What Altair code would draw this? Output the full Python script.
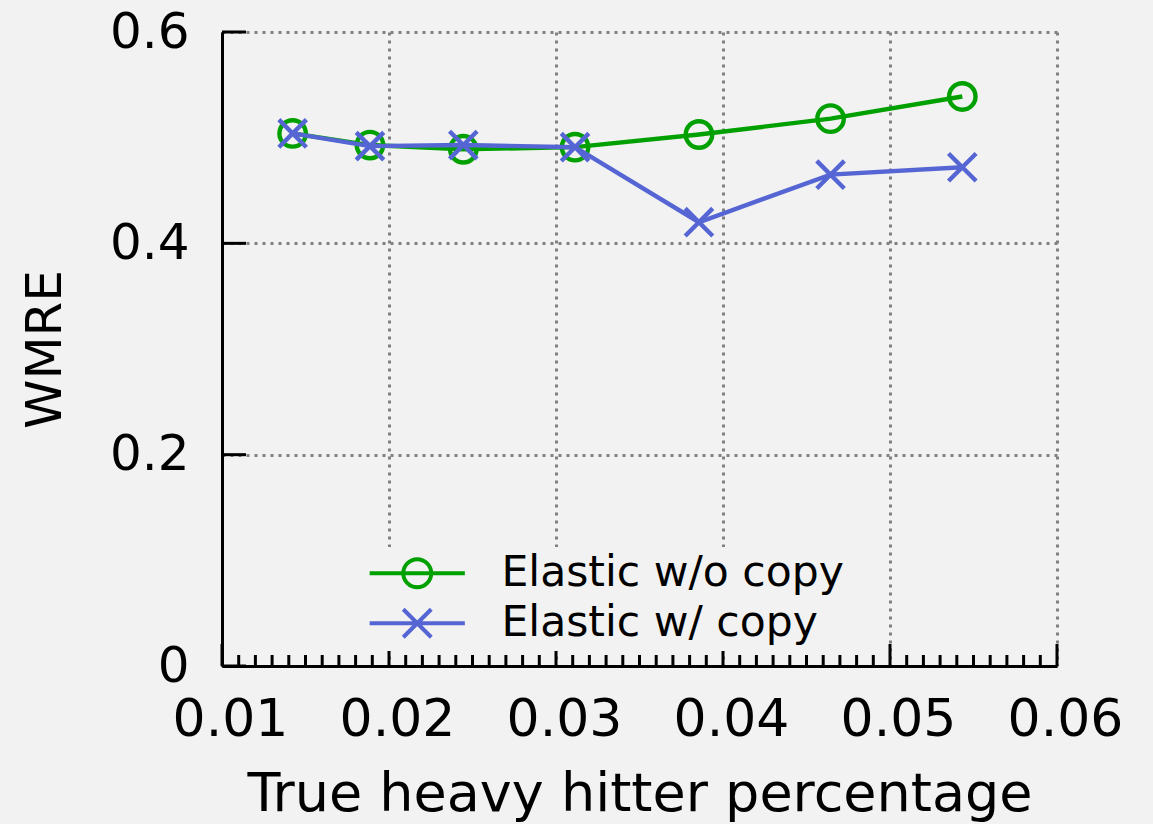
import altair as alt
import pandas as pd

# ---- data ----
x_vals = [0.01423, 0.01886, 0.02445, 0.03114, 0.03856, 0.04644, 0.05433]
wo_copy = [0.504, 0.493, 0.489, 0.491, 0.503, 0.518, 0.539]
w_copy = [0.504, 0.492, 0.493, 0.491, 0.420, 0.465, 0.472]
series_names = ["Elastic w/o copy", "Elastic w/ copy"]
colors = ["#00a000", "#5566d4"]
x_ticks = [0.01, 0.02, 0.03, 0.04, 0.05, 0.06]
y_ticks = [0.0, 0.2, 0.4, 0.6]
x_minor = [round(0.01 + i * 0.001, 4) for i in range(51) if i % 10 != 0]

FONT = "DejaVu Sans"
BG = "#f2f2f2"
W, H = 835, 634

rows = []
for x, a, b in zip(x_vals, wo_copy, w_copy):
    rows.append({"x": x, "y": a, "series": series_names[0]})
    rows.append({"x": x, "y": b, "series": series_names[1]})
df = pd.DataFrame(rows)

xscale = alt.Scale(domain=[0.01, 0.06], nice=False, zero=False)
yscale = alt.Scale(domain=[0, 0.6], nice=False, zero=True)
cscale = alt.Scale(domain=series_names, range=colors)

# legend symbols: horizontal line with marker
circ_path = "M-3.4,0H3.4M-1,0A1,1 0 1,0 1,0A1,1 0 1,0 -1,0"
x_path = "M-3.4,0H3.4M-1,-1L1,1M-1,1L1,-1"
X_MARK = "M-1,-1L1,1M-1,1L1,-1"

base = alt.Chart(df)

xaxis = alt.Axis(values=x_ticks, format=".2f", grid=True, gridColor="#808080",
                 gridDash=[3, 5], gridWidth=3, ticks=False, tickSize=0,
                 domainColor="black", domainWidth=3, labelFont=FONT,
                 labelFontSize=52, labelColor="black", labelPadding=28,
                 labelOffset=8, labelFlush=False,
                 title="True heavy hitter percentage", titleFont=FONT,
                 titleFontSize=54, titleFontWeight="normal", titleColor="black",
                 titleX=W / 2, titleY=144, titleBaseline="alphabetic",
                 titleAlign="center")
yaxis = alt.Axis(values=y_ticks, grid=True, gridColor="#808080",
                 gridDash=[3, 5], gridWidth=3, ticks=False, tickSize=0,
                 domainColor="black", domainWidth=3, labelFont=FONT,
                 labelFontSize=50, labelColor="black", labelPadding=33,
                 labelExpr="datum.value == 0 ? '0' : format(datum.value, '.1f')",
                 labelFlush=False,
                 title="WMRE", titleFont=FONT, titleFontSize=50,
                 titleFontWeight="normal", titleColor="black", titleAngle=-90,
                 titleX=-177, titleY=H / 2, titleAlign="center",
                 titleBaseline="middle")

axes_layer = alt.Chart(pd.DataFrame({"x": [0.01], "y": [0.0]})).mark_point(opacity=0).encode(
    x=alt.X("x:Q", scale=xscale, axis=xaxis),
    y=alt.Y("y:Q", scale=yscale, axis=yaxis),
)

def series_layers(name, color, shape, size):
    d = base.transform_filter(alt.datum.series == name)
    line = d.mark_line(strokeWidth=4.4, color=color).encode(
        x=alt.X("x:Q", scale=xscale),
        y=alt.Y("y:Q", scale=yscale),
    )
    pts = d.mark_point(shape=shape, filled=False, strokeWidth=4.4, size=size,
                       opacity=1, color=color).encode(
        x=alt.X("x:Q", scale=xscale),
        y=alt.Y("y:Q", scale=yscale),
    )
    return [line, pts]

leg = alt.Legend(title=None, orient="none", legendX=138, legendY=515,
                 fillColor=BG, padding=5, rowPadding=5,
                 symbolSize=784, symbolStrokeWidth=4,
                 symbolOpacity=1, symbolOffset=31,
                 labelOffset=63, labelFont=FONT,
                 labelFontSize=42.5, labelColor="black",
                 labelLimit=1000,
                 labelExpr="datum.label + '       '")

legend_layer = base.mark_point(filled=False, opacity=0, strokeWidth=4).encode(
    x=alt.X("x:Q", scale=xscale),
    y=alt.Y("y:Q", scale=yscale),
    color=alt.Color("series:N", scale=cscale, legend=leg),
    shape=alt.Shape("series:N", scale=alt.Scale(domain=series_names,
                                                range=[circ_path, x_path]),
                    legend=leg),
)

xt = pd.DataFrame({"x": x_ticks})
xm = pd.DataFrame({"x": x_minor})
yt = pd.DataFrame({"y": y_ticks})

x_major_ticks = alt.Chart(xt).mark_rule(color="black", strokeWidth=3).encode(
    x=alt.X("x:Q", scale=xscale), y=alt.value(H), y2=alt.value(H - 22))
x_minor_ticks = alt.Chart(xm).mark_rule(color="black", strokeWidth=3).encode(
    x=alt.X("x:Q", scale=xscale), y=alt.value(H), y2=alt.value(H - 11))
y_major_ticks = alt.Chart(yt).mark_rule(color="black", strokeWidth=3).encode(
    y=alt.Y("y:Q", scale=yscale), x=alt.value(0), x2=alt.value(24))

layers = [axes_layer, x_major_ticks, x_minor_ticks, y_major_ticks]
layers += series_layers(series_names[0], colors[0], "circle", 700)
layers += series_layers(series_names[1], colors[1], X_MARK, 760)
layers += [legend_layer]

chart = alt.layer(*layers).properties(
    width=W, height=H,
    background=BG,
    padding={"left": 222, "top": 32, "right": 96, "bottom": 158},
    autosize=alt.AutoSizeParams(type="none"),
).configure_view(stroke=None)

chart.save("out.html", embed_options={"renderer": "svg", "actions": False})
